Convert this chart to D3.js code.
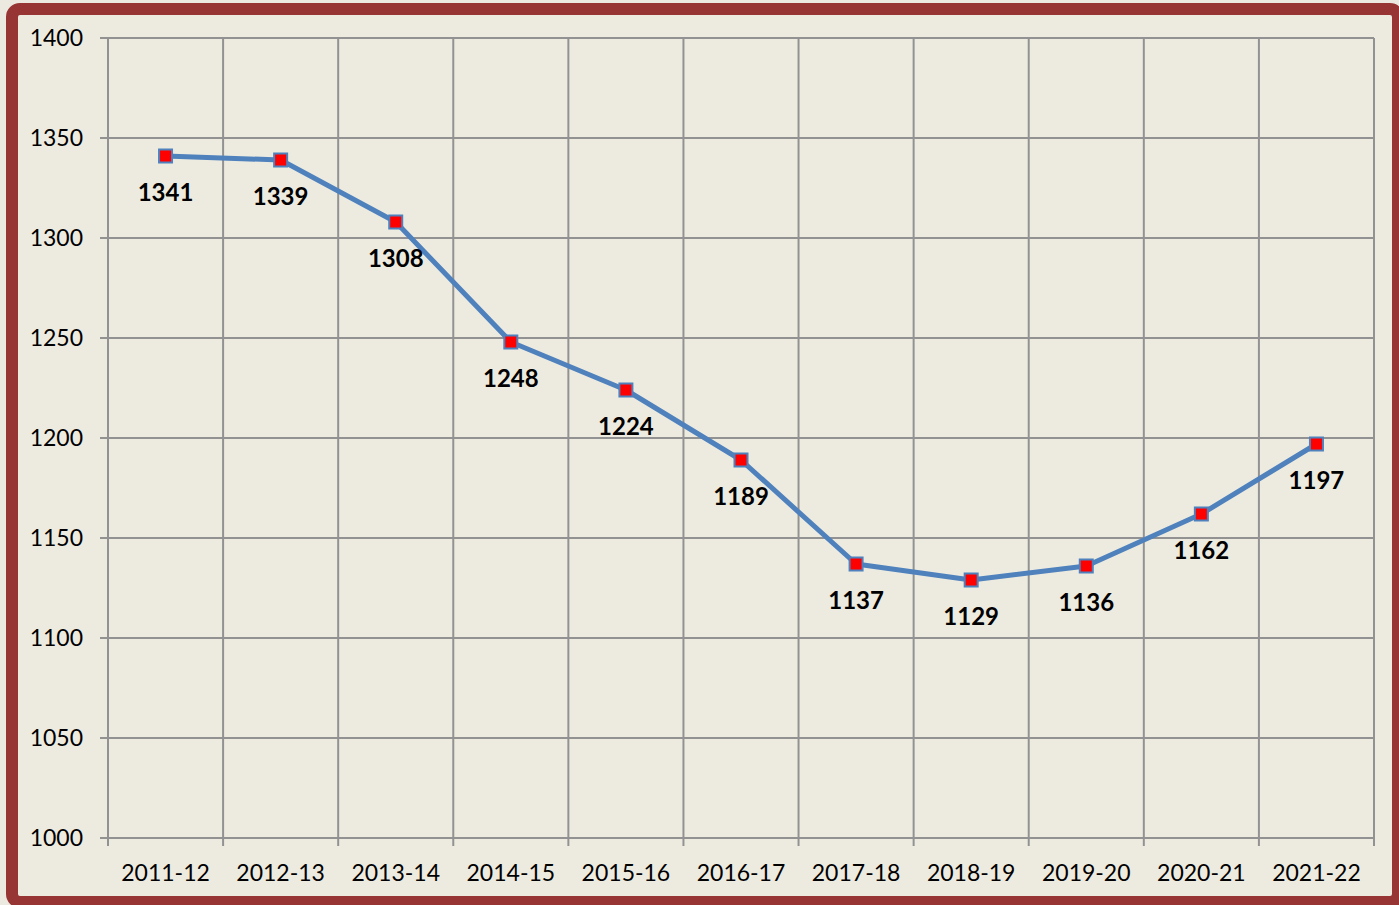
<!DOCTYPE html>
<html>
<head>
<meta charset="utf-8">
<script src="https://cdn.jsdelivr.net/npm/d3@7"></script>
<style>
  body { margin: 0; background: #eceae0; }
  svg { display: block; }
  text { font-family: Lato, "Open Sans", sans-serif; }
</style>
</head>
<body>
<div id="chart"></div>
<script>
const years = ["2011-12", "2012-13", "2013-14", "2014-15", "2015-16", "2016-17",
    "2017-18", "2018-19", "2019-20", "2020-21", "2021-22"];
const counts = [1341, 1339, 1308, 1248, 1224, 1189, 1137, 1129, 1136, 1162, 1197];
const yTicks = [1000, 1050, 1100, 1150, 1200, 1250, 1300, 1350, 1400];

const width = 1399;
const height = 905;
const margin = {top: 38, right: 25, bottom: 67, left: 108};

const svg = d3.select("#chart")
    .append("svg")
    .attr("width", width)
    .attr("height", height);

// frame
svg.append("rect")
    .attr("width", width).attr("height", height)
    .attr("fill", "#eceae0");
svg.append("rect")
    .attr("x", 12).attr("y", 9)
    .attr("width", width - 13).attr("height", height - 12)
    .attr("rx", 8)
    .attr("fill", "#edebe0")
    .attr("stroke", "#973535")
    .attr("stroke-width", 12);
svg.append("rect")
    .attr("x", 1395).attr("y", 9)
    .attr("width", 4).attr("height", height)
    .attr("fill", "#973535");

const x = d3.scaleBand()
    .domain(years)
    .range([margin.left, width - margin.right]);

const y = d3.scaleLinear()
    .domain([1000, 1400])
    .range([height - margin.bottom, margin.top]);

const grid = svg.append("g")
    .attr("stroke", "#929292")
    .attr("stroke-width", 2);

// horizontal grid lines with left ticks
grid.selectAll("line.h")
    .data(yTicks)
    .join("line")
    .attr("class", "h")
    .attr("x1", margin.left - 8)
    .attr("x2", width - margin.right)
    .attr("y1", d => y(d))
    .attr("y2", d => y(d));

// vertical lines at category edges
const edges = years.map(d => x(d)).concat([x.range()[1]]);
grid.selectAll("line.v")
    .data(edges)
    .join("line")
    .attr("class", "v")
    .attr("x1", d => d)
    .attr("x2", d => d)
    .attr("y1", margin.top)
    .attr("y2", height - margin.bottom + 8);

svg.append("g")
    .selectAll("text")
    .data(yTicks)
    .join("text")
    .attr("x", 83)
    .attr("y", d => y(d) + 8)
    .attr("text-anchor", "end")
    .attr("font-size", 23)
    .attr("fill", "#000")
    .text(d => d);

svg.append("g")
    .selectAll("text")
    .data(years)
    .join("text")
    .attr("x", d => x(d) + x.bandwidth() / 2)
    .attr("y", 881)
    .attr("text-anchor", "middle")
    .attr("font-size", 23)
    .attr("fill", "#000")
    .text(d => d);

const cx = (d, i) => x(years[i]) + x.bandwidth() / 2;

svg.append("path")
    .datum(counts)
    .attr("fill", "none")
    .attr("stroke", "#4f81bd")
    .attr("stroke-width", 5)
    .attr("stroke-linejoin", "round")
    .attr("d", d3.line().x(cx).y(d => y(d)));

svg.append("g")
    .selectAll("rect")
    .data(counts)
    .join("rect")
    .attr("x", (d, i) => cx(d, i) - 6.5)
    .attr("y", d => y(d) - 6.5)
    .attr("width", 13)
    .attr("height", 13)
    .attr("fill", "#ff0000")
    .attr("stroke", "#4f81bd")
    .attr("stroke-width", 2);

svg.append("g")
    .selectAll("text")
    .data(counts)
    .join("text")
    .attr("x", cx)
    .attr("y", d => y(d) + 45)
    .attr("text-anchor", "middle")
    .attr("font-size", 24)
    .attr("font-weight", "bold")
    .attr("fill", "#000")
    .text(d => d);
</script>
</body>
</html>
